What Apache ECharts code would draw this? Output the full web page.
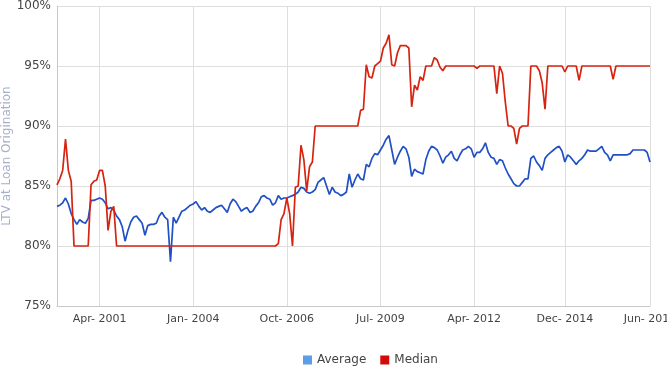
<!DOCTYPE html>
<html>
<head>
	<meta charset="utf-8">
	<title>LTV at Loan Origination</title>
	<script src="https://cdn.jsdelivr.net/npm/echarts@6/dist/echarts.min.js"></script>
	<style>
		* { margin: 0; padding: 0; }
		body { background: #fff; }
		#chart { width: 667px; height: 374px; }
	</style>
</head>
<body>
	<div id="chart"></div>
	<script type="text/javascript">
		// monthly, Jan 2000 .. Jun 2017
		var startYear = 2000;
		var monthNames = ['Jan', 'Feb', 'Mar', 'Apr', 'May', 'Jun', 'Jul', 'Aug', 'Sep', 'Oct', 'Nov', 'Dec'];
		var tickLabels = ['Apr- 2001', 'Jan- 2004', 'Oct- 2006', 'Jul- 2009', 'Apr- 2012', 'Dec- 2014', 'Jun- 2017'];
		var yTicks = [75, 80, 85, 90, 95, 100];

		var average = [
			83.3, 83.4, 83.6, 84.0, 83.5, 82.7, 82.2, 81.8, 82.2, 82.0, 81.9, 82.3,
			83.8, 83.8, 83.9, 84.0, 83.9, 83.6, 83.1, 83.2, 83.0, 82.5, 82.2, 81.6,
			80.4, 81.3, 82.0, 82.4, 82.5, 82.2, 81.9, 80.9, 81.7, 81.8, 81.8, 81.9,
			82.5, 82.8, 82.4, 82.2, 78.7, 82.4, 81.9, 82.4, 82.9, 83.0, 83.2, 83.4,
			83.5, 83.7, 83.3, 83.0, 83.2, 82.9, 82.8, 83.0, 83.2, 83.3, 83.4, 83.1,
			82.8, 83.5, 83.9, 83.7, 83.3, 82.9, 83.1, 83.2, 82.8, 82.9, 83.3, 83.6,
			84.1, 84.2, 84.0, 83.9, 83.4, 83.6, 84.2, 83.9, 84.0, 84.0, 84.1, 84.2,
			84.3, 84.5, 84.9, 84.8, 84.5, 84.4, 84.5, 84.7, 85.3, 85.5, 85.7, 85.0,
			84.3, 84.9, 84.5, 84.4, 84.2, 84.3, 84.5, 86.0, 84.9, 85.5, 86.0, 85.6,
			85.5, 86.8, 86.6, 87.3, 87.7, 87.6, 88.0, 88.4, 88.9, 89.2, 88.0, 86.8,
			87.4, 87.9, 88.3, 88.1, 87.4, 85.8, 86.4, 86.2, 86.1, 86.0, 87.2, 87.9,
			88.3, 88.2, 88.0, 87.5, 86.9, 87.4, 87.6, 87.9, 87.3, 87.1, 87.6, 88.0,
			88.1, 88.3, 88.1, 87.4, 87.8, 87.8, 88.1, 88.6, 87.8, 87.4, 87.3, 86.8,
			87.2, 87.1, 86.5, 86.0, 85.6, 85.2, 85.0, 85.0, 85.3, 85.6, 85.6, 87.3,
			87.5, 87.0, 86.7, 86.3, 87.3, 87.6, 87.8, 88.0, 88.2, 88.3, 87.9, 87.0,
			87.6, 87.4, 87.1, 86.8, 87.1, 87.3, 87.6, 88.0, 87.9, 87.9, 87.9, 88.1,
			88.3, 87.8, 87.6, 87.1, 87.6, 87.6, 87.6, 87.6, 87.6, 87.6, 87.7, 88.0,
			88.0, 88.0, 88.0, 88.0, 87.8, 87.0
		];

		var median = [
			85.1, 85.6, 86.3, 88.9, 86.3, 85.4, 80.0, 80.0, 80.0, 80.0, 80.0, 80.0,
			85.1, 85.4, 85.5, 86.3, 86.3, 85.0, 81.3, 82.9, 83.3, 80.0, 80.0, 80.0,
			80.0, 80.0, 80.0, 80.0, 80.0, 80.0, 80.0, 80.0, 80.0, 80.0, 80.0, 80.0,
			80.0, 80.0, 80.0, 80.0, 80.0, 80.0, 80.0, 80.0, 80.0, 80.0, 80.0, 80.0,
			80.0, 80.0, 80.0, 80.0, 80.0, 80.0, 80.0, 80.0, 80.0, 80.0, 80.0, 80.0,
			80.0, 80.0, 80.0, 80.0, 80.0, 80.0, 80.0, 80.0, 80.0, 80.0, 80.0, 80.0,
			80.0, 80.0, 80.0, 80.0, 80.0, 80.0, 80.2, 82.2, 82.7, 84.0, 82.7, 80.0,
			84.9, 85.0, 88.4, 87.2, 84.6, 86.6, 87.0, 90.0, 90.0, 90.0, 90.0, 90.0,
			90.0, 90.0, 90.0, 90.0, 90.0, 90.0, 90.0, 90.0, 90.0, 90.0, 90.0, 91.3,
			91.4, 95.1, 94.1, 94.0, 95.0, 95.2, 95.4, 96.5, 96.9, 97.6, 95.1, 95.0,
			96.1, 96.7, 96.7, 96.7, 96.5, 91.6, 93.4, 93.0, 94.1, 93.8, 95.0, 95.0,
			95.0, 95.7, 95.5, 94.9, 94.6, 95.0, 95.0, 95.0, 95.0, 95.0, 95.0, 95.0,
			95.0, 95.0, 95.0, 95.0, 94.8, 95.0, 95.0, 95.0, 95.0, 95.0, 95.0, 92.7,
			95.0, 94.4, 92.0, 90.0, 90.0, 89.8, 88.5, 89.8, 90.0, 90.0, 90.0, 95.0,
			95.0, 95.0, 94.6, 93.6, 91.4, 95.0, 95.0, 95.0, 95.0, 95.0, 95.0, 94.5,
			95.0, 95.0, 95.0, 95.0, 93.8, 95.0, 95.0, 95.0, 95.0, 95.0, 95.0, 95.0,
			95.0, 95.0, 95.0, 95.0, 93.9, 95.0, 95.0, 95.0, 95.0, 95.0, 95.0, 95.0,
			95.0, 95.0, 95.0, 95.0, 95.0, 95.0
		];

		var months = [];
		for (var k = 0; k < average.length; k++) {
			months.push(monthNames[k % 12] + '- ' + (startYear + Math.floor(k / 12)));
		}

		function isTick(index, value) {
			return tickLabels.indexOf(months[index]) >= 0;
		}

		var myChart = echarts.init(document.getElementById('chart'), null, { renderer: 'canvas' });

		var option = {
			backgroundColor: '#fff',
			animation: false,
			textStyle: { fontFamily: 'DejaVu Sans' },
			grid: {
				left: 57,
				right: 17,
				top: 6,
				bottom: 68,
				outerBoundsMode: 'none'
			},
			legend: {
				left: 298,
				top: 349,
				icon: 'rect',
				itemWidth: 9,
				itemHeight: 9,
				itemGap: 14,
				textStyle: { color: '#444', fontSize: 12, fontFamily: 'DejaVu Sans' },
				data: [
					{ name: 'Average', itemStyle: { color: '#5b9ee6' } },
					{ name: 'Median', itemStyle: { color: '#d40a0a' } }
				]
			},
			xAxis: {
				type: 'category',
				boundaryGap: false,
				data: months,
				axisLine: { lineStyle: { color: '#c8c8c8' } },
				axisTick: { show: false },
				axisLabel: {
					interval: isTick,
					color: '#444',
					fontSize: 11,
					margin: 8
				},
				splitLine: {
					show: true,
					interval: isTick,
					lineStyle: { color: '#dedede' }
				}
			},
			yAxis: {
				type: 'value',
				min: yTicks[0],
				max: yTicks[yTicks.length - 1],
				interval: 5,
				name: 'LTV at Loan Origination',
				nameLocation: 'middle',
				nameRotate: 90,
				nameGap: 50,
				nameMoveOverlap: false,
				nameTextStyle: { color: '#a7b0c9', fontSize: 12, verticalAlign: 'middle' },
				axisLine: { show: true, lineStyle: { color: '#c8c8c8' } },
				axisTick: { show: false },
				axisLabel: {
					formatter: '{value}%',
					color: '#444',
					fontSize: 12,
					margin: 6
				},
				splitLine: { lineStyle: { color: '#dedede' } }
			},
			series: [
				{
					name: 'Average',
					type: 'line',
					data: average,
					symbol: 'none',
					lineStyle: { color: '#2150c4', width: 1.7 },
					itemStyle: { color: '#2150c4' }
				},
				{
					name: 'Median',
					type: 'line',
					data: median,
					symbol: 'none',
					lineStyle: { color: '#d7230f', width: 1.7 },
					itemStyle: { color: '#d7230f' }
				}
			]
		};

		myChart.setOption(option);
	</script>
</body>
</html>
